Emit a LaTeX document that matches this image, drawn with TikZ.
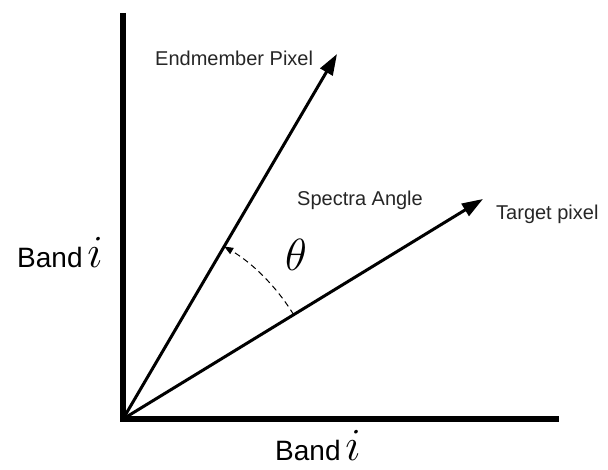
\RequirePackage{fix-cm}
\documentclass[tikz,border=0pt]{standalone}
\usepackage{fontspec}
\setmainfont{Liberation Sans}
\usepackage{tikz}
\usetikzlibrary{arrows.meta}

\tikzset{
  axisline/.style={line width=5.5pt, line join=miter},
  vecline/.style={line width=3pt, -{Triangle[length=21pt,width=14pt]}},
  anglearc/.style={line width=1pt, dash pattern=on 6pt off 4pt, -{Triangle[length=9pt,width=7pt]}},
  lbl/.style={font=\fontsize{20}{22}\selectfont, text=black!85, inner sep=0pt, anchor=base west},
  bandlbl/.style={font=\fontsize{28}{30}\selectfont, inner sep=0pt, anchor=base west}
}

\begin{document}
\begin{tikzpicture}[x=1pt, y=1pt]
    \useasboundingbox (0,0) rectangle (608,470);
    % axes
    \coordinate (O) at (123,51);
    \coordinate (ytop) at (123,457);
    \coordinate (xend) at (559,51);
    \draw[axisline] (ytop) -- (O) -- (xend);
    % the two spectra
    \coordinate (emtip) at (337,416);
    \coordinate (tgtip) at (483,271);
    \draw[vecline] (O) -- (emtip);
    \draw[vecline] (O) -- (tgtip);
    % angle between them
    \draw[anglearc] ([shift={(31.4:200)}]O) arc[start angle=31.4, end angle=59.6, radius=200];
    \node[inner sep=0pt, anchor=base] (theta) at (296,199) {\fontsize{45}{45}\selectfont$\theta$};
    % labels
    \node[lbl] (emlbl) at (155,404) {Endmember Pixel};
    \node[lbl] (anglbl) at (297,264) {Spectra Angle};
    \node[lbl] (tglbl) at (496,250) {Target pixel};
    \node[bandlbl] (bandy) at (17,202) {Band\,{\fontsize{46}{46}\selectfont$i$}};
    \node[bandlbl] (bandx) at (275,9) {Band\,{\fontsize{46}{46}\selectfont$i$}};
\end{tikzpicture}
\end{document}
